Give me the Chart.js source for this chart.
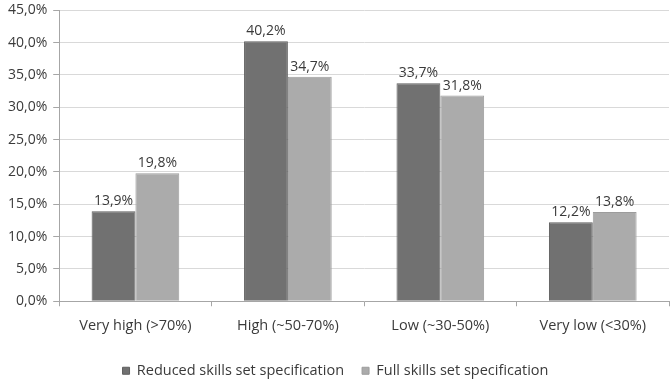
<!DOCTYPE html>
<html>
<head>
<meta charset="utf-8">
<script src="https://cdn.jsdelivr.net/npm/chart.js@4/dist/chart.umd.min.js"></script>
<style>
  html, body { margin: 0; padding: 0; background: #ffffff; }
  #wrap { width: 672px; height: 379px; position: relative; }
</style>
</head>
<body>
<div id="wrap"><canvas id="c"></canvas></div>
<script>
// Share of respondents per match level, for the two skills set specifications
const categories = ["Very high (>70%)", "High (~50-70%)", "Low (~30-50%)", "Very low (<30%)"];
const reducedSpec = [13.9, 40.2, 33.7, 12.2];
const fullSpec = [19.8, 34.7, 31.8, 13.8];
const seriesNames = ["Reduced skills set specification", "Full skills set specification"];
const yTicks = { min: 0, max: 45, step: 5 };

const FONT = "'Open Sans', Lato, sans-serif";
const FSIZE = 14;
const TEXT = '#3a3a3a';
const fmt = v => v.toFixed(1).replace('.', ',') + '%';

// Writes each bar's value just above it
const valueLabels = {
  id: 'valueLabels',
  afterDatasetsDraw(chart) {
    const ctx = chart.ctx;
    ctx.save();
    ctx.font = FSIZE + "px " + FONT;
    ctx.fillStyle = TEXT;
    ctx.textAlign = 'center';
    ctx.textBaseline = 'bottom';
    chart.data.datasets.forEach((ds, i) => {
      chart.getDatasetMeta(i).data.forEach((bar, j) => {
        ctx.fillText(fmt(ds.data[j]), bar.x, bar.y - 3);
      });
    });
    ctx.restore();
  }
};

new Chart(document.getElementById('c'), {
  type: 'bar',
  data: {
    labels: categories,
    datasets: [
      { label: seriesNames[0], data: reducedSpec, backgroundColor: '#717171', borderColor: '#5e5e5e', borderWidth: 1 },
      { label: seriesNames[1], data: fullSpec, backgroundColor: '#ababab', borderColor: '#9c9c9c', borderWidth: 1 }
    ]
  },
  options: {
    responsive: true,
    maintainAspectRatio: false,
    animation: false,
    devicePixelRatio: 1,
    layout: { padding: { top: 0, right: 3, left: 2, bottom: -9 } },
    datasets: { bar: { categoryPercentage: 0.575, barPercentage: 1.0 } },
    plugins: {
      tooltip: { enabled: false },
      legend: {
        position: 'bottom',
        labels: {
          color: TEXT,
          font: { family: FONT, size: FSIZE + 0.5 },
          boxWidth: 7,
          boxHeight: 7,
          padding: 18
        }
      }
    },
    scales: {
      x: {
        grid: { display: true, drawOnChartArea: false, drawTicks: true, tickLength: 5, color: '#a6a6a6', offset: true },
        border: { color: '#a6a6a6' },
        ticks: { color: TEXT, font: { family: FONT, size: FSIZE + 0.5, lineHeight: 0.5 }, padding: 16 }
      },
      y: {
        min: yTicks.min,
        max: yTicks.max,
        grid: { color: '#d9d9d9', tickLength: 6, tickColor: '#a6a6a6' },
        border: { color: '#a6a6a6' },
        ticks: {
          stepSize: yTicks.step,
          color: TEXT,
          font: { family: FONT, size: FSIZE, lineHeight: 0.6 },
          padding: 6,
          callback: v => fmt(v)
        }
      }
    }
  },
  plugins: [valueLabels]
});
</script>
</body>
</html>
